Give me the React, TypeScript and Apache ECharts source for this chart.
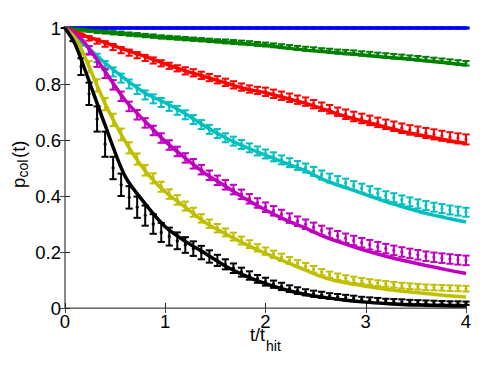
import React, { useEffect, useRef } from "react";
import * as echarts from "echarts";

// sample times of the measured points (t / t_hit)
const T = [0, 0.08, 0.16, 0.24, 0.32, 0.4, 0.48, 0.56, 0.64, 0.72, 0.8, 0.88, 0.96, 1.04, 1.12, 1.2, 1.28, 1.36, 1.44, 1.52, 1.6, 1.68, 1.76, 1.84, 1.92, 2, 2.08, 2.16, 2.24, 2.32, 2.4, 2.48, 2.56, 2.64, 2.72, 2.8, 2.88, 2.96, 3.04, 3.12, 3.2, 3.28, 3.36, 3.44, 3.52, 3.6, 3.68, 3.76, 3.84, 3.92, 4];

// times of the model curves
const MODEL_T = [0, 0.1, 0.2, 0.4, 0.6, 0.8, 1.0, 1.2, 1.4, 1.6, 1.8, 2.0, 2.2, 2.4, 2.6, 2.8, 3.0, 3.2, 3.4, 3.6, 3.8, 4.0];

const BLUE_MODEL = [1, 1, 1, 1, 1, 1, 1, 1, 1, 1, 1, 1, 1, 1, 1, 1, 1, 1, 1, 1, 1, 1];
const GREEN_MODEL = [1, 0.996, 0.993, 0.986, 0.979, 0.972, 0.966, 0.961, 0.956, 0.95, 0.944, 0.938, 0.929, 0.921, 0.915, 0.909, 0.903, 0.896, 0.89, 0.883, 0.876, 0.868];
const RED_MODEL = [1, 0.986, 0.972, 0.948, 0.922, 0.898, 0.872, 0.847, 0.826, 0.804, 0.783, 0.769, 0.75, 0.731, 0.708, 0.684, 0.665, 0.646, 0.628, 0.614, 0.6, 0.588];
const CYAN_MODEL = [1, 0.973, 0.94, 0.875, 0.818, 0.767, 0.733, 0.694, 0.648, 0.608, 0.575, 0.546, 0.517, 0.49, 0.455, 0.43, 0.405, 0.38, 0.358, 0.338, 0.322, 0.307];
const MAGENTA_MODEL = [1, 0.98, 0.945, 0.845, 0.742, 0.666, 0.595, 0.535, 0.48, 0.435, 0.39, 0.35, 0.315, 0.285, 0.253, 0.228, 0.205, 0.185, 0.168, 0.152, 0.137, 0.123];
const YELLOW_MODEL = [1, 0.965, 0.895, 0.73, 0.595, 0.49, 0.415, 0.36, 0.305, 0.265, 0.228, 0.195, 0.165, 0.135, 0.107, 0.09, 0.078, 0.067, 0.059, 0.052, 0.045, 0.039];
const BLACK_MODEL = [1, 0.943, 0.85, 0.653, 0.47, 0.372, 0.29, 0.238, 0.195, 0.15, 0.115, 0.087, 0.065, 0.048, 0.037, 0.028, 0.021, 0.016, 0.012, 0.01, 0.008, 0.007];

// measured means
const BLUE_DATA = [1, 1, 1, 1, 1, 1, 1, 1, 1, 1, 1, 1, 1, 1, 1, 1, 1, 1, 1, 1, 1, 1, 1, 1, 1, 1, 1, 1, 1, 1, 1, 1, 1, 1, 1, 1, 1, 1, 1, 1, 1, 1, 1, 1, 1, 1, 1, 1, 1, 1, 1];
const GREEN_DATA = [1.0, 0.997, 0.994, 0.991, 0.988, 0.986, 0.983, 0.981, 0.978, 0.976, 0.973, 0.971, 0.968, 0.966, 0.964, 0.962, 0.96, 0.958, 0.956, 0.954, 0.952, 0.95, 0.948, 0.946, 0.943, 0.941, 0.938, 0.935, 0.932, 0.929, 0.926, 0.924, 0.921, 0.919, 0.916, 0.914, 0.912, 0.909, 0.907, 0.904, 0.902, 0.899, 0.897, 0.894, 0.892, 0.889, 0.886, 0.883, 0.88, 0.877, 0.874];
const RED_DATA = [1, 0.987, 0.974, 0.963, 0.953, 0.943, 0.932, 0.921, 0.912, 0.903, 0.893, 0.884, 0.874, 0.865, 0.856, 0.847, 0.84, 0.831, 0.823, 0.815, 0.806, 0.797, 0.789, 0.782, 0.777, 0.772, 0.765, 0.758, 0.751, 0.744, 0.737, 0.728, 0.719, 0.71, 0.701, 0.692, 0.684, 0.677, 0.67, 0.663, 0.656, 0.649, 0.642, 0.636, 0.631, 0.625, 0.62, 0.615, 0.61, 0.606, 0.602];
const CYAN_DATA = [1, 0.975, 0.947, 0.922, 0.893, 0.866, 0.843, 0.821, 0.8, 0.78, 0.761, 0.747, 0.734, 0.72, 0.706, 0.69, 0.673, 0.655, 0.638, 0.623, 0.608, 0.596, 0.584, 0.572, 0.561, 0.55, 0.54, 0.529, 0.519, 0.509, 0.5, 0.488, 0.475, 0.464, 0.455, 0.446, 0.437, 0.428, 0.419, 0.41, 0.401, 0.394, 0.386, 0.379, 0.372, 0.366, 0.36, 0.355, 0.35, 0.346, 0.342];
const MAGENTA_DATA = [1, 0.983, 0.958, 0.92, 0.878, 0.838, 0.797, 0.756, 0.72, 0.69, 0.661, 0.634, 0.607, 0.582, 0.559, 0.536, 0.515, 0.494, 0.474, 0.456, 0.44, 0.423, 0.406, 0.39, 0.375, 0.36, 0.347, 0.334, 0.321, 0.31, 0.299, 0.288, 0.277, 0.267, 0.258, 0.249, 0.241, 0.233, 0.226, 0.219, 0.212, 0.206, 0.2, 0.195, 0.19, 0.185, 0.181, 0.178, 0.175, 0.172, 0.17];
const YELLOW_DATA = [1, 0.985, 0.925, 0.862, 0.795, 0.728, 0.672, 0.62, 0.572, 0.532, 0.492, 0.463, 0.433, 0.407, 0.386, 0.364, 0.342, 0.32, 0.301, 0.285, 0.27, 0.255, 0.241, 0.228, 0.215, 0.203, 0.192, 0.181, 0.17, 0.159, 0.149, 0.138, 0.128, 0.119, 0.112, 0.106, 0.101, 0.097, 0.093, 0.089, 0.086, 0.083, 0.08, 0.078, 0.076, 0.074, 0.073, 0.072, 0.071, 0.07, 0.069];
const BLACK_DATA = [1, 0.965, 0.862, 0.765, 0.675, 0.585, 0.5, 0.44, 0.395, 0.36, 0.33, 0.3, 0.27, 0.255, 0.24, 0.225, 0.212, 0.198, 0.184, 0.17, 0.156, 0.142, 0.128, 0.116, 0.104, 0.094, 0.085, 0.077, 0.069, 0.062, 0.056, 0.051, 0.047, 0.043, 0.04, 0.037, 0.034, 0.031, 0.029, 0.027, 0.025, 0.024, 0.023, 0.022, 0.021, 0.02, 0.019, 0.019, 0.018, 0.018, 0.017];

// half-length of the error bars
const BLUE_ERR = [0, 0.002, 0.002, 0.002, 0.002, 0.002, 0.002, 0.002, 0.002, 0.002, 0.002, 0.002, 0.002, 0.002, 0.002, 0.002, 0.002, 0.002, 0.002, 0.002, 0.002, 0.002, 0.002, 0.002, 0.002, 0.002, 0.002, 0.002, 0.002, 0.002, 0.002, 0.002, 0.002, 0.002, 0.002, 0.002, 0.002, 0.002, 0.002, 0.002, 0.002, 0.002, 0.002, 0.002, 0.002, 0.002, 0.002, 0.002, 0.002, 0.002, 0.002];
const GREEN_ERR = [0, 0.003, 0.004, 0.005, 0.006, 0.006, 0.006, 0.006, 0.006, 0.006, 0.006, 0.006, 0.006, 0.006, 0.006, 0.006, 0.006, 0.006, 0.006, 0.006, 0.007, 0.007, 0.007, 0.007, 0.007, 0.007, 0.007, 0.007, 0.007, 0.007, 0.007, 0.007, 0.007, 0.007, 0.007, 0.008, 0.008, 0.008, 0.008, 0.008, 0.008, 0.008, 0.008, 0.008, 0.008, 0.008, 0.008, 0.008, 0.008, 0.008, 0.008];
const RED_ERR = [0, 0.005, 0.007, 0.008, 0.009, 0.01, 0.011, 0.011, 0.011, 0.011, 0.011, 0.011, 0.011, 0.011, 0.011, 0.013, 0.013, 0.013, 0.013, 0.013, 0.013, 0.013, 0.013, 0.013, 0.013, 0.015, 0.015, 0.015, 0.015, 0.015, 0.015, 0.015, 0.015, 0.015, 0.015, 0.017, 0.017, 0.017, 0.017, 0.017, 0.017, 0.017, 0.017, 0.017, 0.017, 0.018, 0.018, 0.018, 0.018, 0.018, 0.018];
const CYAN_ERR = [0, 0.006, 0.01, 0.013, 0.015, 0.016, 0.016, 0.016, 0.016, 0.016, 0.016, 0.016, 0.016, 0.016, 0.016, 0.016, 0.016, 0.016, 0.016, 0.016, 0.016, 0.016, 0.016, 0.016, 0.016, 0.016, 0.016, 0.016, 0.016, 0.016, 0.016, 0.016, 0.016, 0.016, 0.016, 0.016, 0.016, 0.016, 0.016, 0.016, 0.016, 0.016, 0.016, 0.016, 0.016, 0.016, 0.016, 0.016, 0.016, 0.016, 0.016];
const MAGENTA_ERR = [0, 0.008, 0.012, 0.015, 0.017, 0.017, 0.017, 0.017, 0.017, 0.017, 0.017, 0.017, 0.017, 0.017, 0.017, 0.017, 0.017, 0.017, 0.017, 0.017, 0.017, 0.017, 0.017, 0.017, 0.017, 0.017, 0.017, 0.017, 0.017, 0.017, 0.017, 0.017, 0.017, 0.017, 0.017, 0.017, 0.017, 0.017, 0.017, 0.017, 0.017, 0.017, 0.017, 0.017, 0.017, 0.017, 0.017, 0.017, 0.017, 0.017, 0.017];
const YELLOW_ERR = [0, 0.01, 0.018, 0.02, 0.022, 0.022, 0.022, 0.021, 0.02, 0.02, 0.019, 0.018, 0.018, 0.017, 0.017, 0.016, 0.016, 0.015, 0.015, 0.015, 0.014, 0.014, 0.014, 0.014, 0.013, 0.013, 0.013, 0.013, 0.012, 0.012, 0.012, 0.012, 0.011, 0.011, 0.011, 0.011, 0.011, 0.01, 0.01, 0.01, 0.01, 0.01, 0.01, 0.01, 0.01, 0.01, 0.01, 0.01, 0.01, 0.01, 0.01];
const BLACK_ERR = [0, 0.012, 0.03, 0.04, 0.045, 0.045, 0.04, 0.04, 0.04, 0.038, 0.036, 0.035, 0.034, 0.032, 0.03, 0.028, 0.026, 0.024, 0.022, 0.02, 0.018, 0.017, 0.016, 0.015, 0.014, 0.014, 0.013, 0.013, 0.012, 0.012, 0.011, 0.011, 0.011, 0.01, 0.01, 0.01, 0.01, 0.009, 0.009, 0.009, 0.008, 0.008, 0.008, 0.007, 0.007, 0.007, 0.007, 0.006, 0.006, 0.006, 0.006];

const X_TICKS = [0, 1, 2, 3, 4];
const Y_TICKS = [0, 0.2, 0.4, 0.6, 0.8, 1];

const CURVES = [
  { color: "#0000ff", model: BLUE_MODEL, data: BLUE_DATA, err: BLUE_ERR },
  { color: "#008000", model: GREEN_MODEL, data: GREEN_DATA, err: GREEN_ERR },
  { color: "#ff0000", model: RED_MODEL, data: RED_DATA, err: RED_ERR },
  { color: "#00bfbf", model: CYAN_MODEL, data: CYAN_DATA, err: CYAN_ERR },
  { color: "#bf00bf", model: MAGENTA_MODEL, data: MAGENTA_DATA, err: MAGENTA_ERR },
  { color: "#bfbf00", model: YELLOW_MODEL, data: YELLOW_DATA, err: YELLOW_ERR },
  { color: "#000000", model: BLACK_MODEL, data: BLACK_DATA, err: BLACK_ERR },
];

const FONT = '"Liberation Sans", Arial, Helvetica, sans-serif';

function errorBarRenderer(color: string) {
  return (params: any, api: any) => {
    const x = api.value(0);
    const y = api.value(1);
    const e = api.value(2);
    const top = api.coord([x, y + e]);
    const bot = api.coord([x, y - e]);
    const c = api.coord([x, y]);
    const hw = 3.6;
    const st = { stroke: color, lineWidth: 2 };
    return {
      type: "group",
      children: [
        { type: "line", shape: { x1: top[0], y1: top[1], x2: bot[0], y2: bot[1] }, style: st },
        { type: "line", shape: { x1: top[0] - hw, y1: top[1], x2: top[0] + hw, y2: top[1] }, style: st },
        { type: "line", shape: { x1: bot[0] - hw, y1: bot[1], x2: bot[0] + hw, y2: bot[1] }, style: st },
        { type: "circle", shape: { cx: c[0], cy: c[1], r: 1.6 }, style: { fill: color } },
      ],
    };
  };
}

export default function App() {
  const ref = useRef<HTMLDivElement>(null);
  useEffect(() => {
    if (!ref.current) return;
    const chart = echarts.init(ref.current, undefined, { renderer: "svg" });
    const series: any[] = [];
    CURVES.forEach((c) => {
      series.push({
        type: "custom",
        renderItem: errorBarRenderer(c.color),
        data: T.map((t, i) => [t, c.data[i], c.err[i]]),
        encode: { x: 0, y: 1 },
        clip: false,
        silent: true,
      });
      series.push({
        type: "line",
        data: MODEL_T.map((t, i) => [t, c.model[i]]),
        showSymbol: false,
        symbol: "none",
        smooth: 0.3,
        clip: false,
        silent: true,
        lineStyle: { color: c.color, width: 3.5 },
      });
    });
    const axisLabelStyle = { color: "#000", fontFamily: FONT, fontSize: 18.5 };
    chart.setOption({
      animation: false,
      grid: { left: 65, right: 19, top: 28, bottom: 72 },
      xAxis: [
        {
          type: "value", min: X_TICKS[0], max: X_TICKS[X_TICKS.length - 1], interval: 1,
          axisLine: { lineStyle: { color: "#222", width: 1 } },
          axisTick: { inside: true, length: 5, lineStyle: { color: "#222" } },
          axisLabel: { ...axisLabelStyle, margin: 4 },
          splitLine: { show: false },
        },
        {
          type: "value", position: "top", min: X_TICKS[0], max: X_TICKS[X_TICKS.length - 1], interval: 1,
          axisLine: { lineStyle: { color: "#888", width: 1.5 } },
          axisTick: { inside: true, length: 5, lineStyle: { color: "#444" } },
          axisLabel: { show: false },
          splitLine: { show: false },
        },
      ],
      yAxis: [
        {
          type: "value", min: Y_TICKS[0], max: Y_TICKS[Y_TICKS.length - 1], interval: 0.2,
          axisLine: { show: true, lineStyle: { color: "#222", width: 1 } },
          axisTick: { show: true, inside: true, length: 5, lineStyle: { color: "#222" } },
          axisLabel: { ...axisLabelStyle, margin: 4 },
          splitLine: { show: false },
        },
        {
          type: "value", position: "right", min: Y_TICKS[0], max: Y_TICKS[Y_TICKS.length - 1], interval: 0.2,
          axisLine: { show: true, lineStyle: { color: "#888", width: 2 } },
          axisTick: { show: true, inside: true, length: 5, lineStyle: { color: "#444" } },
          axisLabel: { show: false },
          splitLine: { show: false },
        },
      ],
      series,
      graphic: [
        {
          type: "group",
          x: 18,
          y: 163,
          rotation: Math.PI / 2,
          children: [
            { type: "text", x: -25, y: 0, style: { text: "p", font: `18.5px ${FONT}`, fill: "#000", align: "left", verticalAlign: "middle" } },
            { type: "text", x: -14.5, y: 5, style: { text: "col", font: `14px ${FONT}`, fill: "#000", align: "left", verticalAlign: "middle" } },
            { type: "text", x: 5, y: 0, style: { text: "(t)", font: `18.5px ${FONT}`, fill: "#000", align: "left", verticalAlign: "middle" } },
          ],
        },
        { type: "text", x: 250, y: 335, style: { text: "t/t", font: `18px ${FONT}`, fill: "#000", align: "left", verticalAlign: "middle" } },
        { type: "text", x: 266, y: 346, style: { text: "hit", font: `14px ${FONT}`, fill: "#000", align: "left", verticalAlign: "middle" } },
      ],
    });
    return () => chart.dispose();
  }, []);
  return (
    <div
      ref={ref}
      style={{ position: "absolute", left: 0, top: 0, width: 485, height: 380, background: "#fff" }}
    />
  );
}
